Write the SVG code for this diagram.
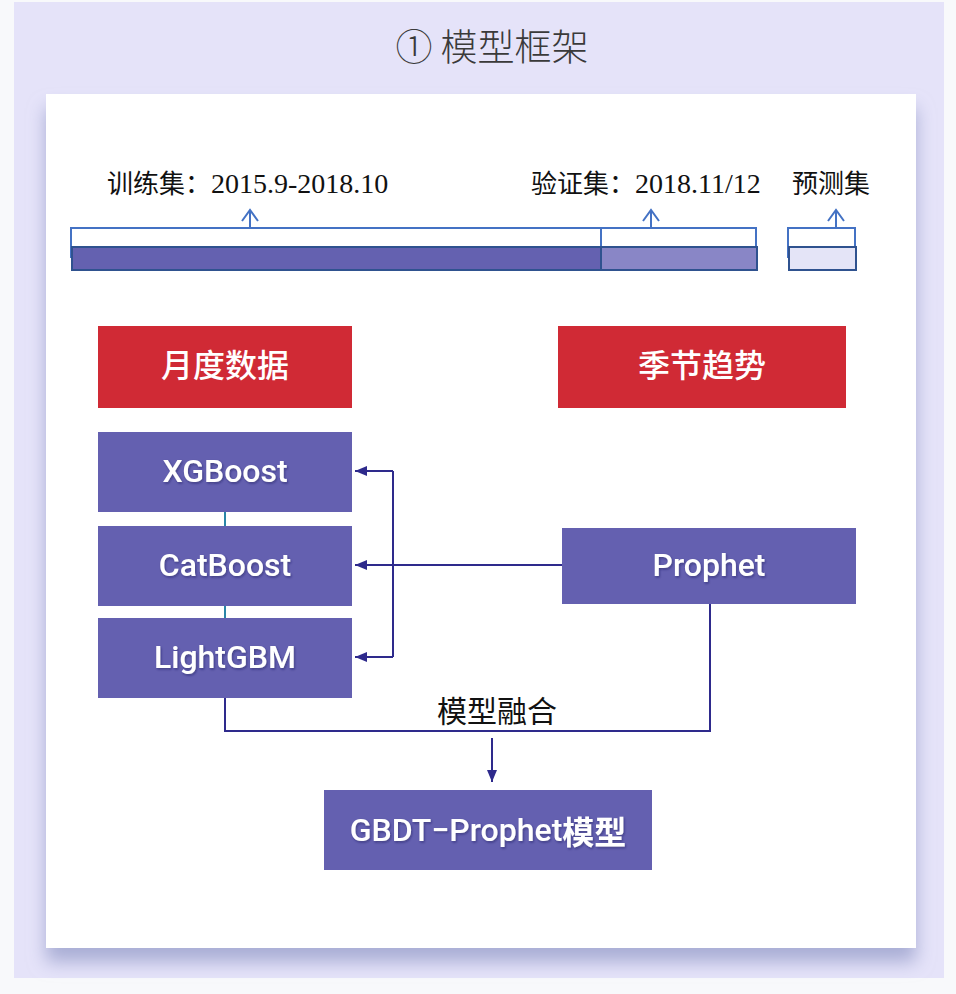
<svg xmlns="http://www.w3.org/2000/svg" width="956" height="994" viewBox="0 0 956 994">
<defs>
<filter id="cardShadow" x="-10%" y="-10%" width="120%" height="125%">
<feDropShadow dx="0" dy="14" stdDeviation="9" flood-color="#9aa0cc" flood-opacity="0.8"/>
</filter>
<filter id="txtShadow" x="-10%" y="-30%" width="120%" height="160%">
<feDropShadow dx="1" dy="1.5" stdDeviation="1.2" flood-color="#1a1850" flood-opacity="0.45"/>
</filter>
<marker id="arr" viewBox="0 0 12 10" refX="12" refY="5" markerWidth="12" markerHeight="10" markerUnits="userSpaceOnUse" orient="auto">
<path d="M0,0 L12,5 L0,10 Z" fill="#2e2a8c"/>
</marker>
<marker id="chev" viewBox="0 0 14 18" refX="12" refY="9" markerWidth="14" markerHeight="18" markerUnits="userSpaceOnUse" orient="auto">
<path d="M1,1 L12,9 L1,17" fill="none" stroke="#4472c4" stroke-width="2"/>
</marker>
</defs>
<style>
.cjk{font-family:"Noto Sans CJK SC","Liberation Sans",sans-serif;}
.num{font-family:"Liberation Serif","Noto Sans CJK SC",serif;}
.lbl{font-size:26px;fill:#111;}
.ntx{font-family:Roboto,"Liberation Sans","Noto Sans CJK SC",sans-serif;font-size:32px;font-weight:500;fill:#fff;text-anchor:middle;dominant-baseline:central;}
.red{fill:#d02a35;}
.pur{fill:#6460b0;}
.outline{fill:none;stroke:#4472c4;stroke-width:2;}
.bar{stroke:#2f528f;stroke-width:2;}
.conn{fill:none;stroke:#2e2a8c;stroke-width:2;}
.teal{fill:none;stroke:#2a86a8;stroke-width:2;}
</style>
<rect x="0" y="0" width="956" height="994" fill="#f8f9fb"/>
<rect x="14" y="2" width="930" height="976" fill="#e5e3f9"/>
<rect x="46" y="94" width="870" height="854" fill="#ffffff" filter="url(#cardShadow)"/>
<text x="492" y="61" class="cjk" font-size="37" font-weight="300" fill="#3a3a3a" text-anchor="middle">① 模型框架</text>

<g id="timeline">
<text x="107" y="193" class="lbl"><tspan class="cjk">训练集：</tspan><tspan class="num" font-size="28">2015.9-2018.10</tspan></text>
<text x="531" y="193" class="lbl"><tspan class="cjk">验证集：</tspan><tspan class="num" font-size="28">2018.11/12</tspan></text>
<text x="792" y="193" class="lbl cjk">预测集</text>
<path class="outline" d="M71,258 V228 H756 V268 M601,228 V270"/>
<path class="outline" d="M788,258 V228 H855 V268"/>
<rect class="bar" x="72" y="247" width="529" height="23" fill="#6461b0"/>
<rect class="bar" x="601" y="247" width="156" height="23" fill="#8986c6"/>
<rect class="bar" x="789" y="247" width="67" height="23" fill="#e4e4f7"/>
<line class="outline" x1="250" y1="228" x2="250" y2="210" marker-end="url(#chev)"/>
<line class="outline" x1="651" y1="228" x2="651" y2="210" marker-end="url(#chev)"/>
<line class="outline" x1="836" y1="228" x2="836" y2="210" marker-end="url(#chev)"/>
</g>

<g id="connectors">
<line class="teal" x1="225" y1="512" x2="225" y2="526"/>
<line class="teal" x1="225" y1="606" x2="225" y2="618"/>
<path class="conn" d="M393,471 V657"/>
<line class="conn" x1="393" y1="471" x2="355" y2="471" marker-end="url(#arr)"/>
<line class="conn" x1="562" y1="565" x2="355" y2="565" marker-end="url(#arr)"/>
<line class="conn" x1="393" y1="657" x2="355" y2="657" marker-end="url(#arr)"/>
<path class="conn" d="M225,698 V731 H710 V604"/>
<line class="conn" x1="492" y1="738" x2="492" y2="782" marker-end="url(#arr)"/>
<text x="497" y="722" class="cjk" font-size="30" fill="#111" text-anchor="middle">模型融合</text>
</g>

<g id="node-monthly">
<rect class="red" x="98" y="326" width="254" height="82"/>
<text x="225" y="366" class="ntx cjk" font-size="30" font-weight="bold">月度数据</text>
</g>
<g id="node-season">
<rect class="red" x="558" y="326" width="288" height="82"/>
<text x="702" y="366" class="ntx cjk" font-size="30" font-weight="bold">季节趋势</text>
</g>
<g id="node-xgboost">
<rect class="pur" x="98" y="432" width="254" height="80"/>
<text x="225" y="471" class="ntx" filter="url(#txtShadow)">XGBoost</text>
</g>
<g id="node-catboost">
<rect class="pur" x="98" y="526" width="254" height="80"/>
<text x="225" y="565" class="ntx" filter="url(#txtShadow)">CatBoost</text>
</g>
<g id="node-lightgbm">
<rect class="pur" x="98" y="618" width="254" height="80"/>
<text x="225" y="657" class="ntx" filter="url(#txtShadow)">LightGBM</text>
</g>
<g id="node-prophet">
<rect class="pur" x="562" y="528" width="294" height="76"/>
<text x="709" y="565" class="ntx" filter="url(#txtShadow)">Prophet</text>
</g>
<g id="node-gbdt">
<rect class="pur" x="324" y="790" width="328" height="80"/>
<text x="488" y="830" class="ntx" filter="url(#txtShadow)">GBDT−Prophet<tspan class="cjk" font-weight="bold">模型</tspan></text>
</g>
</svg>
